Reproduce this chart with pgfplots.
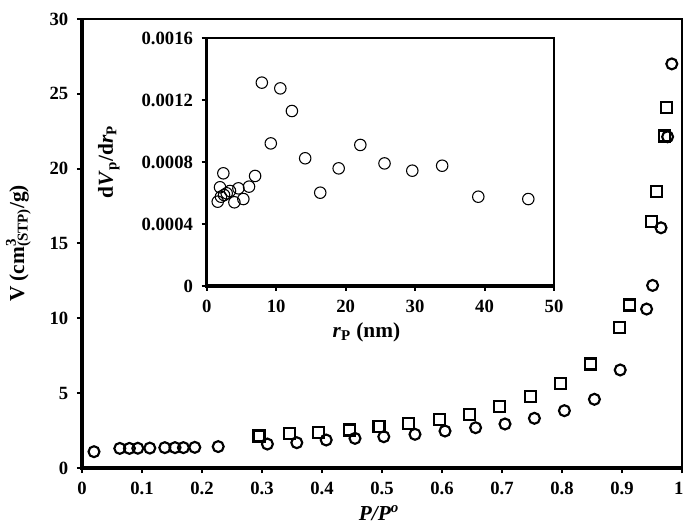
\documentclass[border=0pt]{standalone}
\usepackage{pgfplots}
\pgfplotsset{compat=1.18}
\usepackage{fontspec}
\setmainfont{Liberation Serif}

% 1 px of the reference = 0.75pt
\pgfplotsset{
  exc/.style={
    scale only axis,
    axis line style={line width=1.5pt},
    tick align=outside,
    xtick pos=left, ytick pos=left,
    major tick length=3.75pt,
    tick style={line width=1.5pt, black},
    ticklabel style={font=\fontsize{14}{16}\selectfont\bfseries},
    xticklabel style={yshift=-3pt},
    yticklabel style={xshift=-3pt},
    label style={font=\fontsize{16}{18}\selectfont\bfseries},
    scaled ticks=false,
    extra description/.code={\draw[line width=2.6pt] (0,1) -- (0,0) -- (1,0);},
  },
}

\begin{document}
\begin{tikzpicture}
\begin{axis}[
  exc,
  width=450pt, height=336.75pt,
  xmin=0, xmax=1, ymin=0, ymax=30,
  xtick={0,0.1,...,0.95},
  xticklabels={0,0.1,0.2,0.3,0.4,0.5,0.6,0.7,0.8,0.9},
  extra x ticks={1}, extra x tick labels={1},
  extra x tick style={xticklabel style={xshift=-2.5pt}},
  ytick={0,5,...,30},
  yticklabels={0,5,10,15,20,25,30},
  xlabel={\textit{P/P\textsuperscript{o}}},
  ylabel={V (cm\rlap{\textsuperscript{3}}\textsubscript{(STP)}/g)},
  xlabel style={at={(axis description cs:0.495,-0.101)}, anchor=center},
  ylabel style={at={(axis description cs:-0.106,0.5)}, anchor=center},
]
% adsorption (circles)
\addplot[only marks, mark=o, mark size=4.1pt, line width=1.6pt] coordinates {
(0.020,1.09) (0.063,1.31) (0.079,1.31) (0.093,1.32) (0.113,1.33)
(0.138,1.36) (0.155,1.36) (0.169,1.36) (0.188,1.38) (0.227,1.43)
(0.309,1.60) (0.358,1.69) (0.407,1.87) (0.455,1.98) (0.503,2.09)
(0.555,2.25) (0.605,2.47) (0.656,2.69) (0.705,2.94) (0.754,3.32)
(0.804,3.83) (0.854,4.59) (0.897,6.55) (0.941,10.62) (0.951,12.2)
(0.965,16.05) (0.976,22.13) (0.983,27.0)
};
% desorption (squares)
\addplot[only marks, mark=square, mark size=4.1pt, line width=1.6pt] coordinates {
(0.295,2.14) (0.346,2.32) (0.394,2.38) (0.446,2.54) (0.495,2.76)
(0.544,2.98) (0.596,3.25) (0.646,3.58) (0.696,4.10) (0.747,4.76)
(0.798,5.66) (0.848,6.95) (0.896,9.37) (0.912,10.89) (0.949,16.45)
(0.957,18.5) (0.971,22.18) (0.974,24.1)
};
\end{axis}

% inset: pore size distribution
\begin{axis}[
  exc,
  at={(93.5pt,136.5pt)}, anchor=south west,
  width=260.5pt, height=186pt,
  xmin=0, xmax=50, ymin=0, ymax=0.0016,
  xtick={0,10,...,50},
  xticklabels={0,10,20,30,40,50},
  ytick={0,0.0004,0.0008,0.0012,0.0016},
  yticklabels={0,0.0004,0.0008,0.0012,0.0016},
  xlabel={\textit{r}\textsubscript{P} (nm)},
  ylabel={d\textit{V}\textsubscript{p}/d\textit{r}\textsubscript{P}},
  xlabel style={at={(axis description cs:0.46,-0.185)}, anchor=center},
  ylabel style={at={(axis description cs:-0.282,0.5)}, anchor=center},
]
\addplot[only marks, mark=o, mark size=4.3pt, line width=0.8pt] coordinates {
(1.59,0.000544) (1.92,0.000637) (2.06,0.000576) (2.40,0.000727)
(2.50,0.000587) (2.88,0.000598) (3.36,0.000613) (3.99,0.000540)
(4.57,0.000630) (5.28,0.000561) (6.10,0.000641) (6.97,0.000710)
(7.94,0.001312) (9.23,0.000920) (10.6,0.001275) (12.27,0.001129)
(14.18,0.000824) (16.35,0.000602) (19.0,0.000759) (22.12,0.000910)
(25.6,0.000791) (29.6,0.000744) (33.9,0.000776) (39.1,0.000576)
(46.3,0.000561)
};
\end{axis}

\pgfresetboundingbox
\path[use as bounding box] (-61.5pt,-44.25pt) rectangle (451.5pt,351pt);
\end{tikzpicture}
\end{document}
